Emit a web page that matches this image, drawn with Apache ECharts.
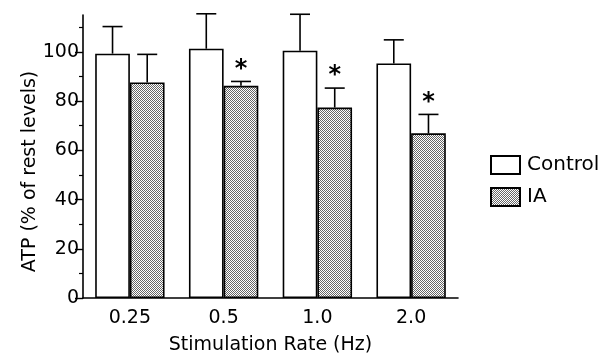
<!DOCTYPE html>
<html><head><meta charset="utf-8">
<script src="https://cdn.jsdelivr.net/npm/echarts@6/dist/echarts.min.js"></script>
<style>html,body{margin:0;padding:0;background:#fff}#c{width:600px;height:353px}</style>
</head><body><div id="c"></div>
<script>
var categories = ['0.25', '0.5', '1.0', '2.0'];
var controlMean = [99.3, 101.3, 100.5, 95.3];
var controlErr = [11.0, 14.2, 14.8, 9.6];
var iaMean = [87.6, 86.2, 77.4, 66.9];
var iaErr = [11.4, 1.8, 7.9, 7.7];
var iaSignificant = [false, true, true, true];
var yMajorTicks = [0, 20, 40, 60, 80, 100];
var yMinorTicks = [10, 30, 50, 70, 90, 110];

var FONT = 'DejaVu Sans';
var FS = 19;
var pc = document.createElement('canvas');
pc.width = 2; pc.height = 2;
var g = pc.getContext('2d');
g.fillStyle = '#fff'; g.fillRect(0, 0, 2, 2);
g.fillStyle = '#666'; g.fillRect(0, 0, 1, 1); g.fillRect(1, 1, 1, 1);
var pattern = {image: pc, repeat: 'repeat'};

var CAT_GAP = 0.26;
function errSeries(name, means, errs, side, stars) {
  return {
    type: 'custom', name: name + ' err', silent: true, z: 5,
    data: means.map(function (m, i) { return [i, m, m + errs[i], stars ? (stars[i] ? 1 : 0) : 0]; }),
    renderItem: function (params, api) {
      var band = api.size([1, 0])[0];
      var off = side * band * (1 - CAT_GAP) / 4;
      var b = api.coord([api.value(0), api.value(1)]);
      var t = api.coord([api.value(0), api.value(2)]);
      var x = b[0] + off;
      var st = {stroke: '#000', lineWidth: 1.6};
      var children = [
        {type: 'line', shape: {x1: x, y1: b[1], x2: x, y2: t[1]}, style: st},
        {type: 'line', shape: {x1: x - 10, y1: t[1], x2: x + 10, y2: t[1]}, style: st}
      ];
      if (api.value(3)) {
        children.push({type: 'text', x: x, y: t[1] - 12, style: {text: '*', fill: '#000', font: 'bold 24px ' + FONT, align: 'center', verticalAlign: 'middle'}});
      }
      return {type: 'group', children: children};
    },
    xAxisIndex: 0, yAxisIndex: 0
  };
}

var chart = echarts.init(document.getElementById('c'), null, {renderer: 'canvas'});
chart.setOption({
  animation: false,
  backgroundColor: '#fff',
  textStyle: {fontFamily: FONT, color: '#000'},
  grid: {left: 83, right: 142, top: 15, bottom: 55, containLabel: false, outerBoundsMode: 'none'},
  legend: {
    orient: 'vertical', left: 485, top: 150, itemWidth: 29, itemHeight: 18, itemGap: 12,
    textStyle: {fontFamily: FONT, fontSize: 20, color: '#000', padding: [0, 0, 0, 2]},
    data: [{name: 'Control', icon: 'rect'}, {name: 'IA', icon: 'rect'}]
  },
  xAxis: {
    type: 'category', data: categories,
    name: 'Stimulation Rate (Hz)', nameLocation: 'middle', nameGap: 38,
    nameTextStyle: {fontFamily: FONT, fontSize: FS, color: '#000'},
    axisLine: {lineStyle: {color: '#000', width: 1.6}},
    axisTick: {show: false},
    axisLabel: {fontFamily: FONT, fontSize: FS, color: '#000', margin: 11}
  },
  yAxis: [{
    type: 'value', min: 0, max: 115,
    name: 'ATP (% of rest levels)', nameLocation: 'middle', nameGap: 43, nameMoveOverlap: false,
    nameTextStyle: {fontFamily: FONT, fontSize: FS, color: '#000', padding: [0, 30, 0, 0]},
    axisLine: {show: true, lineStyle: {color: '#000', width: 1.6}},
    axisTick: {show: true, length: 8, customValues: yMajorTicks, lineStyle: {color: '#000', width: 1.4}},
    axisLabel: {customValues: yMajorTicks, fontFamily: FONT, fontSize: FS, color: '#000', margin: 4},
    splitLine: {show: false}
  }, {
    type: 'value', min: 0, max: 115, position: 'left',
    axisLine: {show: false},
    axisTick: {show: true, length: 4, customValues: yMinorTicks, lineStyle: {color: '#000', width: 1.2}},
    axisLabel: {show: false},
    splitLine: {show: false}
  }],
  series: [
    {type: 'bar', name: 'Control', data: controlMean, barGap: 0, barCategoryGap: (CAT_GAP * 100) + '%',
     itemStyle: {color: '#fff', borderColor: '#000', borderWidth: 1.6}},
    {type: 'bar', name: 'IA', data: iaMean, barGap: 0, barCategoryGap: (CAT_GAP * 100) + '%',
     itemStyle: {color: pattern, borderColor: '#000', borderWidth: 1.6}},
    errSeries('Control', controlMean, controlErr, -1, null),
    errSeries('IA', iaMean, iaErr, 1, iaSignificant)
  ]
});
</script></body></html>
